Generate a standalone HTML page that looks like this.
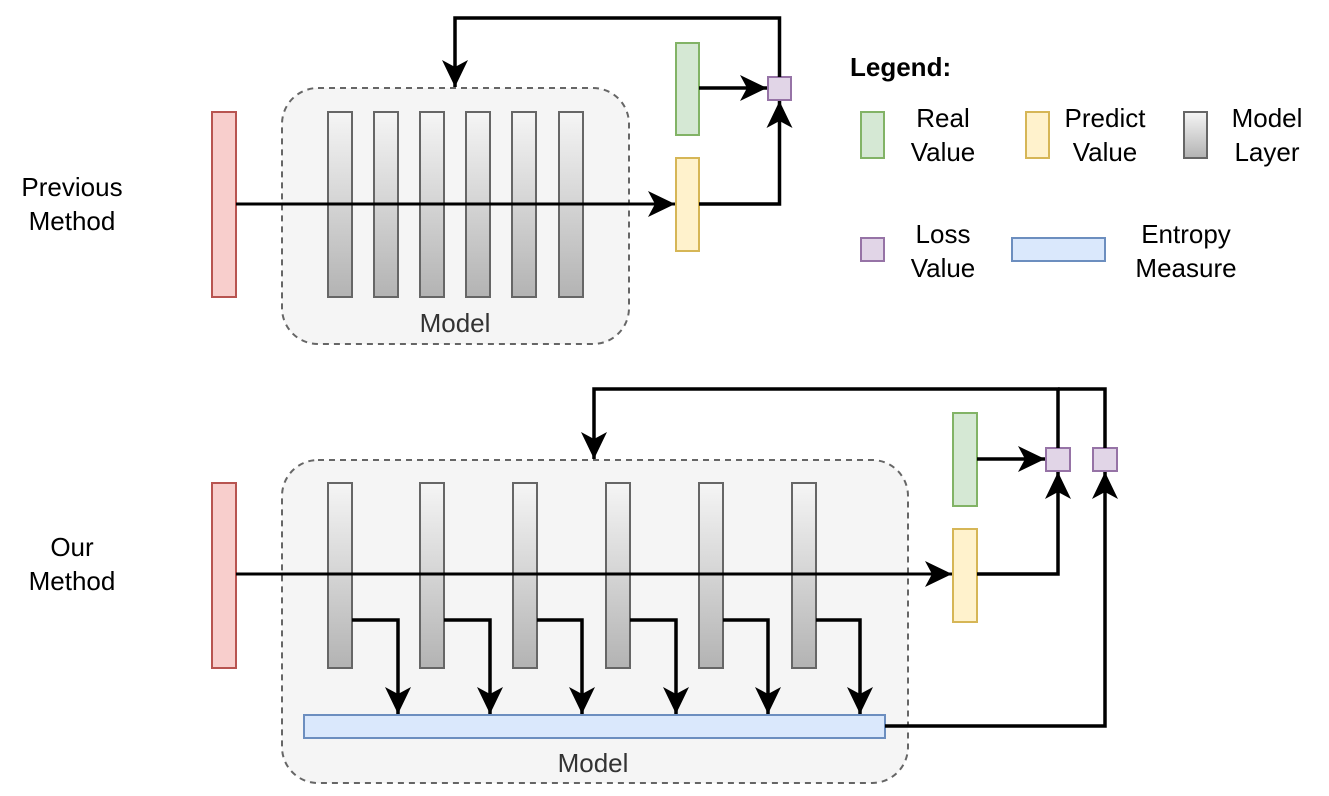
<!DOCTYPE html>
<html><head><meta charset="utf-8"><style>html,body{margin:0;padding:0;background:#fff}svg{display:block}text{font-family:"Liberation Sans",Arial,sans-serif;}</style></head><body>
<svg width="1329" height="796" viewBox="0 0 1329 796" xmlns="http://www.w3.org/2000/svg">
<defs>
<linearGradient id="g" x1="0" y1="0" x2="0" y2="1"><stop offset="0" stop-color="#f5f5f5"/><stop offset="1" stop-color="#b3b3b3"/></linearGradient>
<marker id="a" markerWidth="28" markerHeight="28" refX="27" refY="13" orient="auto" markerUnits="userSpaceOnUse" viewBox="0 0 28 26"><path d="M0,0 L27,13 L0,26 L7,13 Z" fill="#000"/></marker>
</defs>
<g fill="#000" font-size="26" text-anchor="middle">
<text x="72" y="196">Previous</text><text x="72" y="230">Method</text>
<text x="72" y="556">Our</text><text x="72" y="590">Method</text>
</g>
<!-- top -->
<rect x="282" y="88" width="347" height="256" rx="36" fill="#f5f5f5" stroke="#666" stroke-width="2" stroke-dasharray="6,5"/>
<text x="455" y="332" font-size="26" fill="#333" text-anchor="middle">Model</text>
<rect x="212" y="112" width="24" height="185" fill="#f8cecc" stroke="#b85450" stroke-width="2"/>
<g fill="url(#g)" stroke="#666" stroke-width="2">
<rect x="328" y="112" width="24" height="185"/><rect x="374" y="112" width="24" height="185"/><rect x="420" y="112" width="24" height="185"/><rect x="466" y="112" width="24" height="185"/><rect x="512" y="112" width="24" height="185"/><rect x="559" y="112" width="24" height="185"/>
</g>
<rect x="676" y="43" width="23" height="92" fill="#d5e8d4" stroke="#82b366" stroke-width="2"/>
<rect x="676" y="158" width="23" height="93" fill="#fff2cc" stroke="#d6b656" stroke-width="2"/>
<rect x="768" y="77" width="23" height="23" fill="#e1d5e7" stroke="#9673a6" stroke-width="2"/>
<g fill="none" stroke="#000" stroke-width="3.5" stroke-linejoin="miter">
<path d="M236,204 H675" marker-end="url(#a)" stroke-width="3"/>
<path d="M699,88 H767" marker-end="url(#a)"/>
<path d="M699,204 H779.5 V101" marker-end="url(#a)"/>
<path d="M779.5,77 V18 H455 V87" marker-end="url(#a)"/>
</g>
<!-- bottom -->
<rect x="282" y="460" width="626" height="323" rx="36" fill="#f5f5f5" stroke="#666" stroke-width="2" stroke-dasharray="6,5"/>
<text x="593" y="772" font-size="26" fill="#333" text-anchor="middle">Model</text>
<rect x="212" y="483" width="24" height="185" fill="#f8cecc" stroke="#b85450" stroke-width="2"/>
<g fill="url(#g)" stroke="#666" stroke-width="2">
<rect x="328" y="483" width="24" height="185"/><rect x="420" y="483" width="24" height="185"/><rect x="513" y="483" width="24" height="185"/><rect x="606" y="483" width="24" height="185"/><rect x="699" y="483" width="24" height="185"/><rect x="792" y="483" width="24" height="185"/>
</g>
<rect x="304" y="715" width="581" height="23" fill="#dae8fc" stroke="#6c8ebf" stroke-width="2"/>
<rect x="953" y="413" width="24" height="93" fill="#d5e8d4" stroke="#82b366" stroke-width="2"/>
<rect x="953" y="529" width="24" height="93" fill="#fff2cc" stroke="#d6b656" stroke-width="2"/>
<rect x="1046" y="448" width="24" height="23" fill="#e1d5e7" stroke="#9673a6" stroke-width="2"/>
<rect x="1093" y="448" width="24" height="23" fill="#e1d5e7" stroke="#9673a6" stroke-width="2"/>
<g fill="none" stroke="#000" stroke-width="3.5">
<path d="M236,574 H952" marker-end="url(#a)" stroke-width="3"/>
<path d="M977,459 H1045" marker-end="url(#a)"/>
<path d="M977,574 H1058 V472" marker-end="url(#a)"/>
<path d="M1058,448 V389 H594 V459" marker-end="url(#a)"/>
<path d="M1105,448 V389 H1058"/>
<path d="M885,726 H1105 V472" marker-end="url(#a)"/>
<path d="M352,620 H398 V714" marker-end="url(#a)"/>
<path d="M444,620 H490 V714" marker-end="url(#a)"/>
<path d="M537,620 H582 V714" marker-end="url(#a)"/>
<path d="M630,620 H676 V714" marker-end="url(#a)"/>
<path d="M723,620 H768 V714" marker-end="url(#a)"/>
<path d="M816,620 H860 V714" marker-end="url(#a)"/>
</g>
<!-- legend -->
<text x="850" y="76" font-size="26" font-weight="bold">Legend:</text>
<rect x="861" y="112" width="23" height="46" fill="#d5e8d4" stroke="#82b366" stroke-width="2"/>
<rect x="1026" y="112" width="23" height="46" fill="#fff2cc" stroke="#d6b656" stroke-width="2"/>
<rect x="1184" y="112" width="23" height="46" fill="url(#g)" stroke="#666" stroke-width="2"/>
<rect x="861" y="238" width="23" height="23" fill="#e1d5e7" stroke="#9673a6" stroke-width="2"/>
<rect x="1012" y="238" width="93" height="23" fill="#dae8fc" stroke="#6c8ebf" stroke-width="2"/>
<g font-size="26" text-anchor="middle" fill="#000">
<text x="943" y="127">Real</text><text x="943" y="161">Value</text>
<text x="1105" y="127">Predict</text><text x="1105" y="161">Value</text>
<text x="1267" y="127">Model</text><text x="1267" y="161">Layer</text>
<text x="943" y="243">Loss</text><text x="943" y="277">Value</text>
<text x="1186" y="243">Entropy</text><text x="1186" y="277">Measure</text>
</g>
</svg>
</body></html>
